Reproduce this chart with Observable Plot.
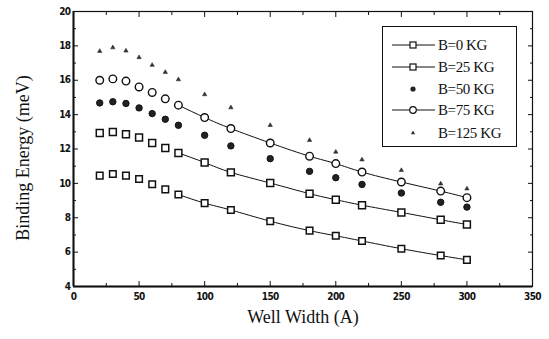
<!DOCTYPE html>
<html><head><meta charset="utf-8">
<script src="https://cdn.jsdelivr.net/npm/d3@7"></script>
<script src="https://cdn.jsdelivr.net/npm/@observablehq/plot@0.6"></script>
<style>
html,body{margin:0;padding:0;background:#fff;}
#wrap{position:relative;width:549px;height:339px;}
#legend{position:absolute;left:382px;top:26px;width:135px;height:121px;border:1.3px solid #111;box-sizing:border-box;background:#fff;}
g[aria-label$="tick label"] text{font-family:"DejaVu Sans";font-weight:bold;font-stretch:condensed;letter-spacing:-0.6px;}
</style></head><body><div id="wrap"></div>
<script>
const wellWidth = [20,30,40,50,60,70,80,100,120,150,180,200,220,250,280,300];
const b0   = [10.45,10.55,10.45,10.25,9.95,9.65,9.35,8.85,8.45,7.8,7.25,6.95,6.65,6.2,5.8,5.55];
const b25  = [12.93,12.99,12.86,12.67,12.35,12.06,11.77,11.21,10.64,10.02,9.40,9.05,8.73,8.31,7.88,7.61];
const b50  = [14.68,14.75,14.65,14.39,14.06,13.73,13.38,12.80,12.18,11.44,10.70,10.33,9.94,9.44,8.90,8.62];
const b75  = [16.0,16.08,15.95,15.61,15.29,14.92,14.55,13.83,13.19,12.35,11.58,11.15,10.66,10.08,9.55,9.17];
const b125 = [17.69,17.9,17.71,17.33,16.88,16.47,16.04,15.17,14.41,13.38,12.51,11.83,11.38,10.76,9.98,9.69];
const seriesNames = ["B=0 KG","B=25 KG","B=50 KG","B=75 KG","B=125 KG"];
const xTicks = [0,50,100,150,200,250,300,350];
const xMinor = [25,75,125,175,225,275,325];
const yTicks = [4,6,8,10,12,14,16,18,20];
const yMinor = [5,7,9,11,13,15,17,19];
const lineStart = 80;

const seriesValues = [b0,b25,b50,b75,b125];
const rows = seriesNames.flatMap((s,i)=>wellWidth.map((w,j)=>({series:s, w, e:seriesValues[i][j]})));
const bySeries = s => rows.filter(d=>d.series===s);
const fitted = s => bySeries(s).filter(d=>d.w>=lineStart);

const tickFont = {fontSize:10};
const noText = ()=>"";

const chart = Plot.plot({
  width:549, height:339,
  marginLeft:73, marginRight:17, marginTop:11, marginBottom:53,
  style:{background:"#fff", color:"#111"},
  x:{domain:[0,350], label:null},
  y:{domain:[4,20], label:null},
  marks:[
    Plot.frame({stroke:"#111", strokeWidth:1.2}),
    Plot.ruleX([0],{stroke:"#111", strokeWidth:2}),
    Plot.ruleY([4],{stroke:"#111", strokeWidth:2}),
    Plot.axisX({ticks:xTicks, tickSize:-5, tickPadding:11, ...tickFont, label:null}),
    Plot.axisX({ticks:xMinor, tickSize:-3, tickFormat:noText, label:null}),
    Plot.axisX({anchor:"top", ticks:xTicks, tickSize:-5, tickFormat:noText, label:null}),
    Plot.axisX({anchor:"top", ticks:xMinor, tickSize:-3, tickFormat:noText, label:null}),
    Plot.axisY({ticks:yTicks, tickSize:-5, tickPadding:8, ...tickFont, label:null}),
    Plot.axisY({ticks:yMinor, tickSize:-3, tickFormat:noText, label:null}),
    Plot.axisY({anchor:"right", ticks:yTicks, tickSize:-5, tickFormat:noText, label:null}),
    Plot.axisY({anchor:"right", ticks:yMinor, tickSize:-3, tickFormat:noText, label:null}),
    ...[seriesNames[0],seriesNames[1],seriesNames[3]].map(s=>
      Plot.line(fitted(s),{x:"w", y:"e", curve:"natural", stroke:"#111", strokeWidth:1})),
    Plot.dot(bySeries(seriesNames[0]),{x:"w", y:"e", symbol:"square", r:3.7, stroke:"#111", strokeWidth:1.5, fill:"#fff"}),
    Plot.dot(bySeries(seriesNames[1]),{x:"w", y:"e", symbol:"square", r:3.9, stroke:"#111", strokeWidth:1.5, fill:"#fff"}),
    Plot.dot(bySeries(seriesNames[2]),{x:"w", y:"e", symbol:"circle", r:3.2, stroke:"#111", strokeWidth:1, fill:"#222"}),
    Plot.dot(bySeries(seriesNames[3]),{x:"w", y:"e", symbol:"circle", r:3.8, stroke:"#111", strokeWidth:1.4, fill:"#fff"}),
    Plot.dot(bySeries(seriesNames[4]),{x:"w", y:"e", symbol:"triangle", r:1.6, stroke:"#333", strokeWidth:0.6, fill:"#333"}),
    Plot.text(["Well Width (A)"],{frameAnchor:"bottom", dy:36, fontSize:18, fontFamily:"Liberation Serif", fill:"#111"}),
    Plot.text(["Binding Energy (meV)"],{frameAnchor:"left", textAnchor:"middle", dx:-50, dy:9, rotate:-90, fontSize:18, fontFamily:"Liberation Serif", fill:"#111"})
  ]
});
const wrap = document.getElementById("wrap");
wrap.appendChild(chart);

// legend
const leg = document.createElement("div");
leg.id = "legend";
wrap.appendChild(leg);
const ls = d3.select(leg).append("svg").attr("width",135).attr("height",121)
  .style("position","absolute").style("left","-1px").style("top","-1px");
const rowY = [19,41,63,84,107];
const kinds = ["sqline","sqline","dot","circline","tri"];
seriesNames.forEach((s,i)=>{
  const g = ls.append("g").attr("transform",`translate(0,${rowY[i]})`);
  const k = kinds[i];
  if(k==="sqline"||k==="circline"){
    g.append("line").attr("x1",10).attr("x2",53).attr("stroke","#111").attr("stroke-width",1);
  }
  if(k==="sqline") g.append("rect").attr("x",28).attr("y",-3).attr("width",6).attr("height",6).attr("fill","#fff").attr("stroke","#111").attr("stroke-width",1.2);
  if(k==="circline") g.append("circle").attr("cx",31).attr("r",3.3).attr("fill","#fff").attr("stroke","#111").attr("stroke-width",1.2);
  if(k==="dot") g.append("circle").attr("cx",31).attr("r",2.6).attr("fill","#222");
  if(k==="tri") g.append("path").attr("d",d3.symbol(d3.symbolTriangle,8)()).attr("transform","translate(31,0)").attr("fill","#333");
  g.append("text").attr("x",56).attr("y",0).attr("dy","0.35em").attr("font-family","Liberation Serif")
    .attr("font-size",15).attr("letter-spacing","-0.4px").attr("fill","#111").text(s);
});
</script></body></html>
